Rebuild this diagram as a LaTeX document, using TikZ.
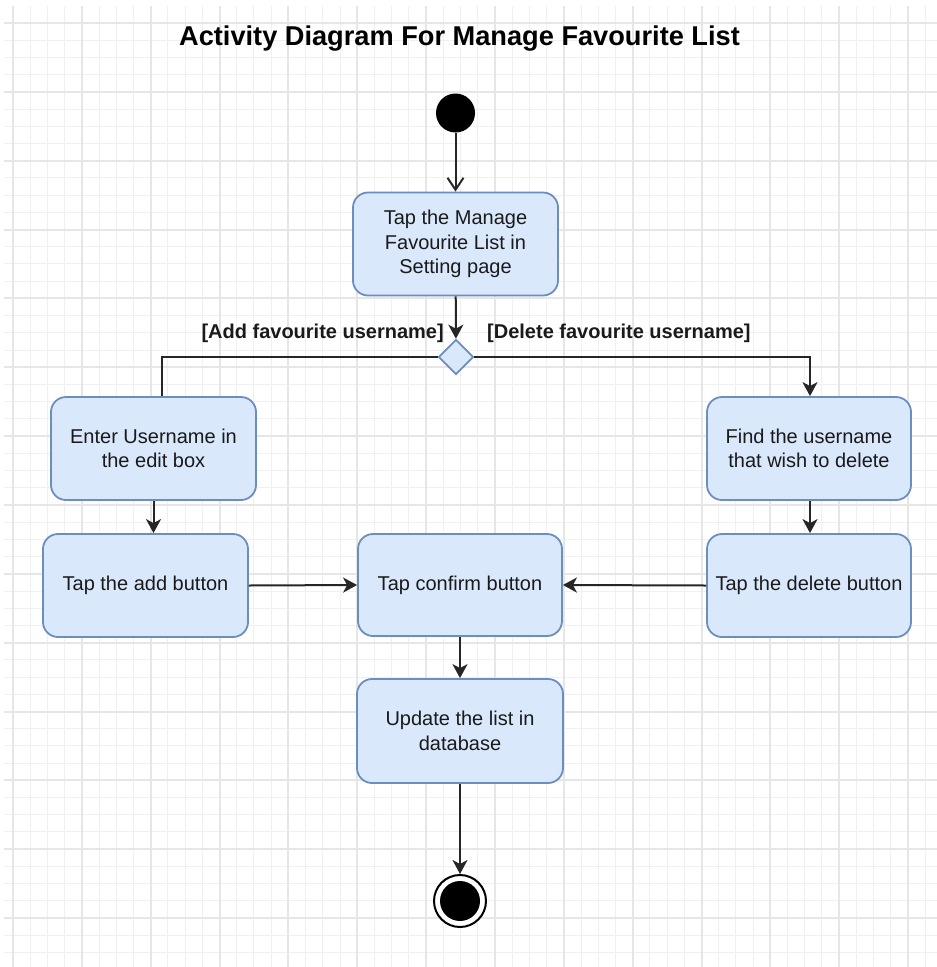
\documentclass[tikz,border=0pt]{standalone}
\usepackage{fontspec}
\setmainfont{Liberation Sans}
\usetikzlibrary{arrows.meta,shapes.geometric}

\definecolor{actfill}{HTML}{DAE8FC}
\definecolor{actline}{HTML}{6C8EBF}
\definecolor{gridminor}{HTML}{F0F0F0}
\definecolor{gridmajor}{HTML}{E6E6E6}
\definecolor{txt}{HTML}{1A1A1A}

\tikzset{
  activity/.style={draw=actline, fill=actfill, line width=1.8pt, rounded corners=15pt,
    minimum width=205pt, minimum height=103pt, inner sep=2pt, align=center,
    text=txt, font=\fontsize{20}{24.5}\selectfont},
  decision/.style={diamond, draw=actline, fill=actfill, line width=1.8pt,
    minimum width=35pt, minimum height=35pt, inner sep=0pt},
  guard/.style={font=\bfseries\fontsize{20}{24}\selectfont, text=txt, inner sep=0pt},
  flow/.style={draw=black!85, line width=2pt, -{Stealth[length=14pt,width=15pt,inset=4pt]}},
  openflow/.style={draw=black!85, line width=2pt, -{Straight Barb[length=12pt,width=16pt]}},
  plainflow/.style={draw=black!85, line width=2pt},
  minorline/.style={draw=gridminor, line width=1pt},
  majorline/.style={draw=gridmajor, line width=2pt}
}

\begin{document}
\begin{tikzpicture}[x=1pt, y=-1pt]
  \useasboundingbox (0,0) rectangle (937,967);
  \fill[white] (0,0) rectangle (937,967);

  % background grid, snapped to whole points
  \begin{scope}
    \clip (4,6) rectangle (937,967);
    \foreach \k in {0,...,53}
      \draw[minorline] ({floor(13+17.2125*\k)+0.5},6) -- ({floor(13+17.2125*\k)+0.5},967);
    \foreach \k in {-1,...,54}
      \draw[minorline] (4,{floor(23+17.2125*\k)+0.5}) -- (937,{floor(23+17.2125*\k)+0.5});
    \foreach \m in {0,...,13}
      \draw[majorline] ({round(13+68.85*\m)},6) -- ({round(13+68.85*\m)},967);
    \foreach \m in {0,...,13}
      \draw[majorline] (4,{round(23+68.85*\m)}) -- (937,{round(23+68.85*\m)});
  \end{scope}

  % title
  \node[font=\bfseries\fontsize{27.2}{31}\selectfont, text=black] (title) at (459.5,39)
    {Activity Diagram For Manage Favourite List};

  % initial state
  \node[circle, fill=black, minimum size=39pt, inner sep=0pt] (start) at (455.5,113) {};

  % activities
  \node[activity] (manage) at (455.5,244) {Tap the Manage\\Favourite List in\\Setting page};
  \node[decision] (dec) at (456,357) {};
  \node[activity] (enter) at (153.5,448.5) {Enter Username in\\the edit box};
  \node[activity] (add) at (145.5,585.5) {Tap the add button};
  \node[activity, minimum width=204pt, minimum height=102pt] (confirm) at (460,585) {Tap confirm button};
  \node[activity, minimum width=204pt] (find) at (809,448.5) {Find the username\\that wish to delete};
  \node[activity, minimum width=204pt] (del) at (809,585.5) {Tap the delete button};
  \node[activity, minimum width=206pt, minimum height=104pt] (update) at (460,731) {Update the list in\\database};

  % final state
  \node[circle, draw=black, line width=2pt, fill=white, minimum size=52pt, inner sep=0pt] (finish) at (460,901) {};
  \node[circle, fill=black, minimum size=40pt, inner sep=0pt] (finishdot) at (finish) {};

  % guard labels
  \node[guard, anchor=east] (gadd) at (444,333) {[Add favourite username]};
  \node[guard, anchor=west] (gdel) at (487,333) {[Delete favourite username]};

  % control flows
  \draw[openflow] (start) -- (manage);
  \draw[flow] (manage) -- (dec);
  \draw[plainflow] (dec.west) -| ([xshift=8.5pt]enter.north);
  \draw[flow] (dec.east) -| ([xshift=1pt]find.north);
  \draw[flow] (enter.south) -- (enter.south |- add.north);
  \draw[flow] ([xshift=1pt]find.south) -- ([xshift=1pt]del.north);
  \draw[flow] (add.east) -- (confirm.west);
  \draw[flow] (del.west) -- (confirm.east);
  \draw[flow] (confirm) -- (update);
  \draw[flow] (update) -- (finish);
\end{tikzpicture}
\end{document}
